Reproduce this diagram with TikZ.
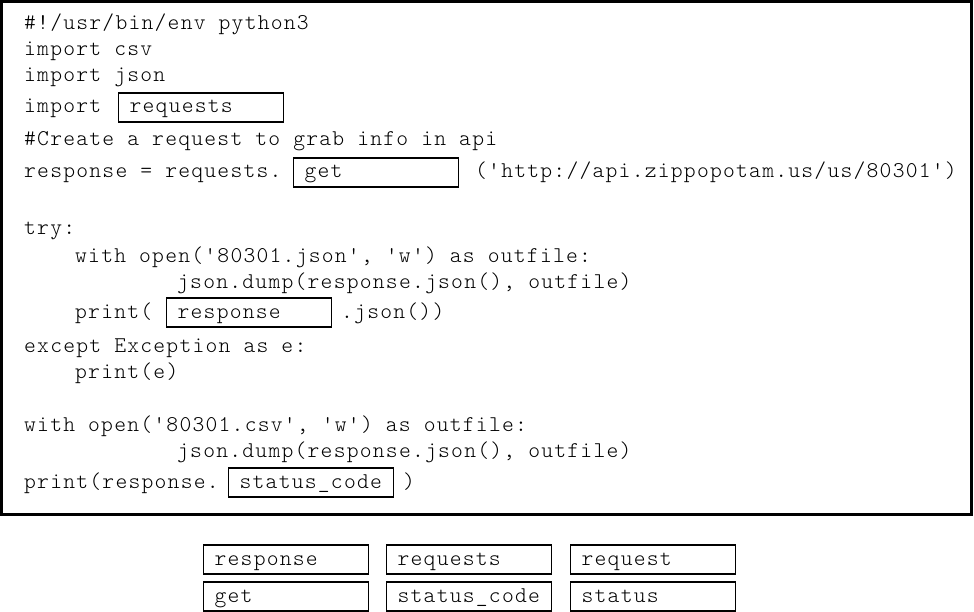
\documentclass[tikz,border=0pt]{standalone}
\usepackage{fontspec}
\setmonofont{lmmonolt10-regular.otf}[LetterSpace=5.5]
\usepackage{tikz}
\usetikzlibrary{positioning}

\begin{document}
\begin{tikzpicture}[x=1pt,y=-1pt,
    every node/.style={font=\ttfamily\fontsize{22.5}{26}\selectfont, text=black},
    code/.style={anchor=base west, inner sep=0pt},
    blank/.style={draw, line width=1.3pt, anchor=base west, inner xsep=11pt, inner ysep=0pt,
      text height=20pt, text depth=9pt, text width=143pt}]
	  \useasboundingbox (0,0) rectangle (974,612);
	  \draw [line width=3pt] (1.5,1.5) rectangle (971.5,514.5);
	  % code listing
	  \node (L1) [code] at (24,30) {\#!/usr/bin/env python3};
	  \node (L2) [code] at (24,56) {import csv};
	  \node (L3) [code] at (24,82) {import json};
	  \node (L4) [code] at (24,113) {import};
	  \node (B1) [blank] at (118,113) {requests};
	  \node (L5) [code] at (24,146) {\#Create a request to grab info in api};
	  \node (L6) [code] at (24,178) {response = requests.};
	  \node (B2) [blank] at (293,178) {get};
	  \node (U) [code] at (475,178) {('http://api.zippopotam.us/us/80301')};
	  \node (L7) [code] at (24,235) {try:};
	  \node (L8) [code] at (75,262) {with open('80301.json', 'w') as outfile:};
	  \node (L9) [code] at (177,288) {json.dump(response.json(), outfile)};
	  \node (L10) [code] at (75,318) {print(};
	  \node (B3) [blank] at (166,318) {response};
	  \node (J) [code] at (341,318) {.json())};
	  \node (L11) [code] at (24,352) {except Exception as e:};
	  \node (L12) [code] at (75,378) {print(e)};
	  \node (L13) [code] at (24,431) {with open('80301.csv', 'w') as outfile:};
	  \node (L14) [code] at (177,457) {json.dump(response.json(), outfile)};
	  \node (L15) [code] at (24,488) {print(response.};
	  \node (B4) [blank] at (228,488) {status\_code};
	  \node (P) [code] at (403,488) {)};
	  % answer options
	  \node (O1) [blank] at (203,565) {response};
	  \node (O2) [blank] at (386,565) {requests};
	  \node (O3) [blank] at (570,565) {request};
	  \node (O4) [blank] at (203,602) {get};
	  \node (O5) [blank] at (386,602) {status\_code};
	  \node (O6) [blank] at (570,602) {status};
	\end{tikzpicture}
\end{document}
